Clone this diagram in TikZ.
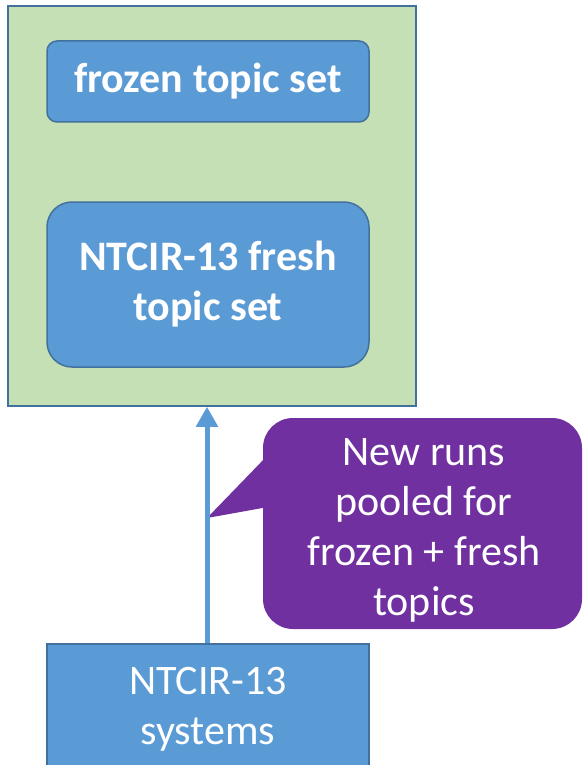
\documentclass[tikz,border=0pt]{standalone}
\usepackage{fontspec}
\setmainfont{Carlito}
\usetikzlibrary{arrows.meta}
\definecolor{boxblue}{HTML}{5B9BD5}
\definecolor{edgeblue}{HTML}{41719C}
\definecolor{panelgreen}{HTML}{C5E0B4}
\definecolor{calloutpurple}{HTML}{7030A0}
\tikzset{
  px/.style={x=1pt,y=-1pt},
  panel/.style={draw=edgeblue,line width=1.5pt,fill=panelgreen,minimum width=408pt,minimum height=400pt,inner sep=0pt},
  topicbox/.style={draw=edgeblue,line width=1.5pt,fill=boxblue,text=white,font=\fontsize{42}{50}\selectfont\bfseries,align=center,minimum width=322pt,inner sep=0pt},
  sysbox/.style={draw=edgeblue,line width=1.5pt,fill=boxblue,text=white,font=\fontsize{42}{50}\selectfont,align=center,minimum width=322pt,minimum height=130pt,inner sep=0pt},
  callouttext/.style={text=white,font=\fontsize{42}{50}\selectfont,align=center,inner sep=0pt},
  flow/.style={draw=boxblue,line width=5pt,-{Triangle[width=21pt,length=20pt]}}
}
\begin{document}
\begin{tikzpicture}[px]
\useasboundingbox (0,0) rectangle (583,765);
\node[panel] (panel) at (212,206) {};
\node[topicbox,minimum height=81pt,rounded corners=10pt] (frozen) at (208,81.5) {frozen topic set};
\node[topicbox,minimum height=165pt,rounded corners=25pt] (fresh) at (208,284.5) {NTCIR-13 fresh\\topic set};
\node[sysbox] (sys) at (208,709) {NTCIR-13\\systems};
\coordinate (tip) at (207,518);
\fill[calloutpurple,rounded corners=30pt] (263,418) rectangle (582,629);
\fill[calloutpurple] (268,455) -- (tip) -- (268,507) -- cycle;
\node[callouttext] (note) at (424,530) {New runs\\pooled for\\frozen + fresh\\topics};
\draw[flow] (sys.north -| tip) -- (tip |- panel.south);
\end{tikzpicture}
\end{document}
